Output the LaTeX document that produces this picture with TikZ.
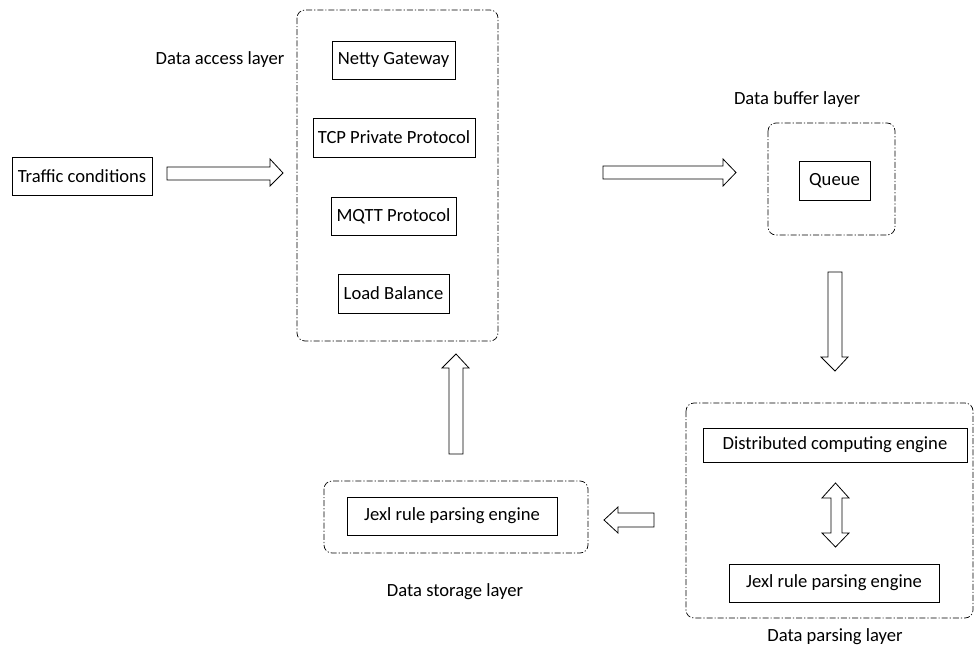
\documentclass[tikz,border=0pt]{standalone}
\usepackage{fontspec}
\setmainfont{Carlito}
\begin{document}
\begin{tikzpicture}[x=1pt,y=-1pt,
  font=\fontsize{18.6}{22}\selectfont,
  box/.style={draw,line width=0.8pt,inner sep=0pt,minimum height=38pt},
  layer/.style={draw,line width=0.7pt,rounded corners=8pt,
    dash pattern=on 6pt off 2pt on 1.2pt off 2pt},
  blockarrow/.style={draw,line width=0.8pt,fill=white,line join=miter}]
\useasboundingbox (0,0) rectangle (975,653);

% layer frames
\draw[layer] (297,10) rectangle (498,341);
\draw[layer] (768,123) rectangle (895,235);
\draw[layer] (324,481) rectangle (588,553);
\draw[layer] (686,403) rectangle (973,618);

% layer titles
\node (accesslbl)  at (220,60)  {Data access layer};
\node (bufferlbl)  at (797,100) {Data buffer layer};
\node (storagelbl) at (455,592) {Data storage layer};
\node (parsinglbl) at (835,637) {Data parsing layer};

% component boxes
\node[box,minimum width=140pt] (traffic) at (82,176)    {Traffic conditions};
\node[box,minimum width=123pt] (netty)   at (393.5,60)  {Netty Gateway};
\node[box,minimum width=162pt,minimum height=39pt] (tcp) at (394,137.5) {TCP Private Protocol};
\node[box,minimum width=125pt] (mqtt)    at (393.5,216) {MQTT Protocol};
\node[box,minimum width=111pt,minimum height=39pt] (lb) at (393.5,293.5) {Load Balance};
\node[box,minimum width=71pt,minimum height=39pt] (queue) at (834.5,180.5) {Queue};
\node[box,minimum width=210pt] (jexlstore) at (452,516) {Jexl rule parsing engine};
\node[box,minimum width=264pt,minimum height=34pt] (dist) at (835,445) {Distributed computing engine};
\node[box,minimum width=210pt] (jexlparse) at (834,583) {Jexl rule parsing engine};

% hollow block arrows
% traffic -> access layer
\draw[blockarrow] (167,167) -- (270,167) -- (270,159) -- (283,173) -- (270,186) -- (270,180) -- (167,180) -- cycle;
% access layer -> buffer layer
\draw[blockarrow] (603,166) -- (723,166) -- (723,159) -- (736,172.5) -- (723,186) -- (723,179) -- (603,179) -- cycle;
% buffer layer -> parsing layer
\draw[blockarrow] (828,272) -- (842,272) -- (842,357) -- (848,357) -- (835,371) -- (821,357) -- (828,357) -- cycle;
% parsing layer -> storage layer
\draw[blockarrow] (654,513) -- (618,513) -- (618,507) -- (604,520) -- (618,533) -- (618,527) -- (654,527) -- cycle;
% storage layer -> access layer
\draw[blockarrow] (449,454) -- (449,368) -- (442,368) -- (456,354) -- (469,368) -- (463,368) -- (463,454) -- cycle;
% distributed engine <-> jexl engine
\draw[blockarrow] (831,498) -- (822,498) -- (835.5,483) -- (849,498) -- (842,498) -- (842,533) -- (849,533) -- (835.5,547) -- (822,533) -- (831,533) -- cycle;
\end{tikzpicture}
\end{document}
